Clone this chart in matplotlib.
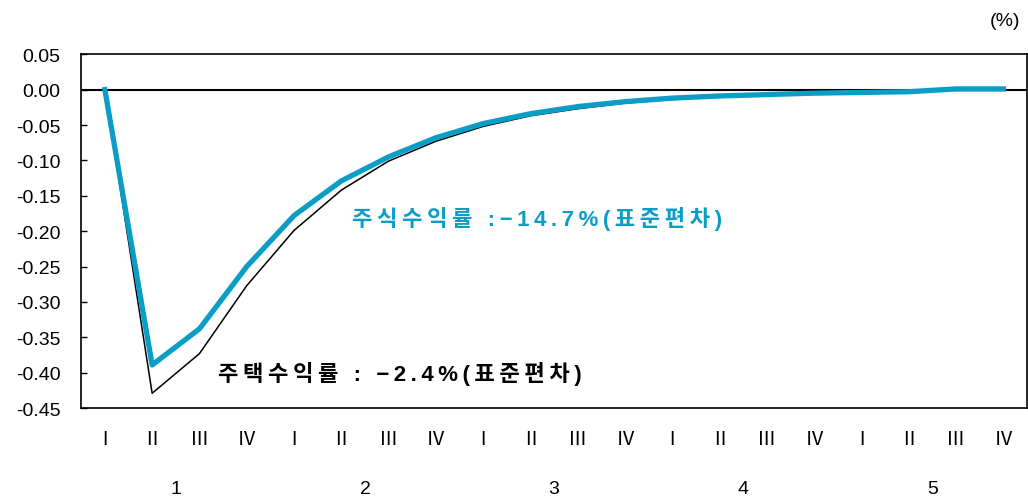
import numpy as np
import matplotlib.pyplot as plt
from matplotlib.transforms import blended_transform_factory

plt.rcParams['font.family'] = ['Liberation Sans', 'Noto Sans CJK KR', 'DejaVu Sans']

# 분기 / 연차
quarters = ['Ⅰ', 'Ⅱ', 'Ⅲ', 'Ⅳ'] * 5
years = ['1', '2', '3', '4', '5']

# 충격반응 (%)
stock = [0.000, -0.389, -0.338, -0.250, -0.178, -0.129, -0.095, -0.068, -0.048, -0.034,
         -0.024, -0.017, -0.012, -0.009, -0.007, -0.005, -0.004, -0.003, 0.001, 0.001]
house = [0.000, -0.429, -0.373, -0.277, -0.199, -0.142, -0.101, -0.073, -0.052, -0.037,
         -0.027, -0.019, -0.014, -0.010, -0.007, -0.005, -0.003, -0.002, -0.001, -0.001]

stock_label = '주식수익률 :−14.7%(표준편차)'
house_label = '주택수익률 : −2.4%(표준편차)'

blue = '#0A9EC6'


def spaced(s):
    # 자간을 넓히기 위해 글자 사이에 얇은 공백 삽입
    return '\u2009'.join(s)


fig = plt.figure(figsize=(10.28, 5.02), dpi=100)
ax = fig.add_axes([0.079, 0.185, 0.92, 0.705])

x = np.arange(len(quarters))
ax.axhline(0, color='black', lw=1.5, zorder=1)
ax.plot(x, house, color='black', lw=1.1, zorder=2)
ax.plot(x, stock, color=blue, lw=3.8, zorder=3)

yticks = np.round(np.arange(-0.45, 0.051, 0.05), 2)
ax.set_xlim(-0.5, len(quarters) - 0.5)
ax.set_ylim(-0.45, 0.05)
ax.set_yticks(yticks)
ax.set_yticklabels(['{:.2f}'.format(v + 0.0) for v in yticks], fontsize=14)
ax.tick_params(axis='y', direction='in', length=4, width=1, pad=15)
ax.set_xticks(x)
ax.set_xticklabels(quarters, fontsize=14, family=['Noto Sans CJK KR'])
ax.tick_params(axis='x', length=0, pad=14)
for s in ax.spines.values():
    s.set_linewidth(1.2)

# 연차 라벨
trans = blended_transform_factory(ax.transData, ax.transAxes)
for i, yr in enumerate(years):
    ax.text(4 * i + 1.5, -0.228, yr, transform=trans, ha='center', va='center', fontsize=14)

ax.text(5.22, -0.181, spaced(stock_label), color=blue, fontsize=16,
        fontweight='bold', va='center')
ax.text(2.40, -0.400, spaced(house_label), color='black', fontsize=16,
        fontweight='bold', va='center')

fig.text(0.992, 0.958, '(%)', ha='right', va='center', fontsize=14)

fig.savefig('out.png', dpi=100)
